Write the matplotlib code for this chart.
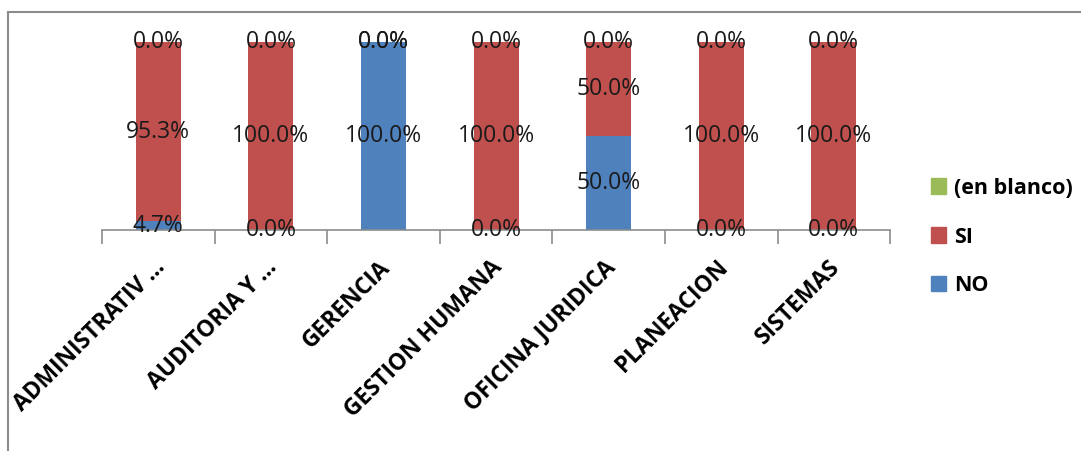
import numpy as np
import matplotlib
matplotlib.use("Agg")
import matplotlib.pyplot as plt
import matplotlib.transforms as mtransforms
from matplotlib.lines import Line2D
from matplotlib.patches import Patch

plt.rcParams['font.family'] = ['Open Sans', 'DejaVu Sans']

# === Data: share of answers per area ===
areas = ['ADMINISTRATIV ...', 'AUDITORIA Y ...', 'GERENCIA', 'GESTION HUMANA',
         'OFICINA JURIDICA', 'PLANEACION', 'SISTEMAS']
no_vals = [0.047, 0.0, 1.0, 0.0, 0.5, 0.0, 0.0]
si_vals = [0.953, 1.0, 0.0, 1.0, 0.5, 1.0, 1.0]
blank_vals = [0.0, 0.0, 0.0, 0.0, 0.0, 0.0, 0.0]

series_names = ['NO', 'SI', '(en blanco)']
series_colors = ['#4F81BD', '#C0504D', '#9BBB59']

fig = plt.figure(figsize=(10.81, 4.51), dpi=100)
ax = fig.add_axes([0.0944, 0.49, 0.729, 0.417])

x = np.arange(len(areas))
bottom = np.zeros(len(areas))
for vals, name, color in zip([no_vals, si_vals, blank_vals], series_names, series_colors):
    vals = np.array(vals)
    ax.bar(x, vals, width=0.4, bottom=bottom, color=color, label=name, zorder=2)
    for xi, b, v in zip(x, bottom, vals):
        ax.text(xi, b + v / 2, f'{v * 100:.1f}%', ha='center', va='center',
                fontsize=16.5, color='#1a1a1a', zorder=3)
    bottom += vals

ax.set_xlim(-0.5, len(areas) - 0.5)
ax.set_ylim(0, 1)
ax.set_yticks([])
for side in ['top', 'right', 'left']:
    ax.spines[side].set_visible(False)
ax.spines['bottom'].set_color('#8c8c8c')
ax.spines['bottom'].set_linewidth(1.2)

# tick marks between categories, no labels on the axis itself
ax.set_xticks(x)
ax.set_xticklabels([])
ax.tick_params(axis='x', which='major', length=0)
ax.set_xticks(np.arange(-0.5, len(areas), 1.0), minor=True)
ax.tick_params(axis='x', which='minor', length=10, width=1.2, color='#8c8c8c')

# category names, rotated and hung below the axis
shift = mtransforms.ScaledTranslation(0.03, -0.34, fig.dpi_scale_trans)
for xi, name in zip(x, areas):
    ax.text(xi, 0, name, transform=ax.get_xaxis_transform() + shift,
            rotation=45, rotation_mode='anchor', ha='right', va='center',
            fontsize=16.5, fontweight='bold', color='black')

handles = [Patch(color=c) for c in series_colors][::-1]
labels = series_names[::-1]
fig.legend(handles, labels, loc='center left', bbox_to_anchor=(0.843, 0.4745),
           frameon=False, handlelength=0.7, handleheight=0.7, handletextpad=0.4,
           labelspacing=1.3, prop={'size': 15.5, 'weight': 'bold'})

# outer chart frame (top and left edges)
fig.add_artist(Line2D([8 / 1081, 8 / 1081], [0, 1 - 12 / 451], transform=fig.transFigure,
                      color='#8c8c8c', lw=1.5))
fig.add_artist(Line2D([8 / 1081, 1], [1 - 12 / 451, 1 - 12 / 451], transform=fig.transFigure,
                      color='#8c8c8c', lw=1.5))

fig.savefig('out.png', dpi=100)
